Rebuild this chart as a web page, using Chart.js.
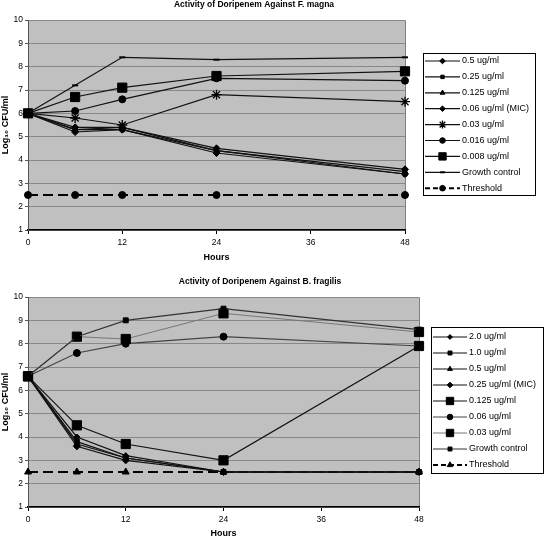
<!DOCTYPE html>
<html>
<head>
<meta charset="utf-8">
<script src="https://cdn.jsdelivr.net/npm/chart.js@4.4.1/dist/chart.umd.min.js"></script>
<style>
  body { margin: 0; background: #fff; }
  #wrap { position: relative; width: 544px; height: 538px; }
  canvas { position: absolute; left: 0; }
  #magnaChart { top: 0; }
  #fragilisChart { top: 270px; }
</style>
</head>
<body>
<div id="wrap">
  <canvas id="magnaChart" width="544" height="270"></canvas>
  <canvas id="fragilisChart" width="544" height="268"></canvas>
</div>
<script>
// sampling times (hours)
const HOURS = [0, 6, 12, 24, 48];

// F. magna, log10 CFU/ml
const FM_0_5 = [6.0, 5.2, 5.3, 4.3, 3.4];
const FM_0_25 = [6.0, 5.3, 5.3, 4.4, 3.4];
const FM_0_125 = [6.0, 5.3, 5.4, 4.4, 3.5];
const FM_0_06 = [6.0, 5.4, 5.4, 4.5, 3.6];
const FM_0_03 = [6.0, 5.8, 5.5, 6.8, 6.5];
const FM_0_016 = [6.0, 6.1, 6.6, 7.5, 7.4];
const FM_0_008 = [6.0, 6.7, 7.1, 7.6, 7.8];
const FM_GROWTH = [6.0, 7.2, 8.4, 8.3, 8.4];
const FM_THRESHOLD = [2.5, 2.5, 2.5, 2.5, 2.5];

// B. fragilis, log10 CFU/ml
const BF_2_0 = [6.6, 4.0, 3.2, 2.5, 2.5];
const BF_1_0 = [6.6, 3.8, 3.1, 2.5, 2.5];
const BF_0_5 = [6.6, 3.7, 3.1, 2.5, 2.5];
const BF_0_25 = [6.6, 3.6, 3.0, 2.5, 2.5];
const BF_0_125 = [6.6, 4.5, 3.7, 3.0, 7.9];
const BF_0_06 = [6.6, 7.6, 8.0, 8.3, 7.9];
const BF_0_03 = [6.6, 8.3, 8.2, 9.3, 8.5];
const BF_GROWTH = [6.6, 8.3, 9.0, 9.5, 8.6];
const BF_THRESHOLD = [2.5, 2.5, 2.5, 2.5, 2.5];

const FONT = "'Liberation Sans', Arial, Helvetica, sans-serif";

let seriesCount = 0;

function series(label, values, style) {
    seriesCount++;
    return Object.assign({
        label: label,
        data: values.map((v, i) => ({ x: HOURS[i], y: v })),
        borderColor: "#111",
        borderWidth: 1.2,
        pointBackgroundColor: "#000",
        pointBorderColor: "#000",
        pointBorderWidth: 1,
        fill: false,
        tension: 0,
        clip: false,
        order: -seriesCount   // later series drawn on top, like the original
    }, style);
}

// grey plot area with thin top/right frame
const plotBackground = {
    id: "plotBackground",
    beforeDraw(chart) {
        const { ctx, chartArea: a } = chart;
        ctx.save();
        ctx.fillStyle = "#c0c0c0";
        ctx.fillRect(a.left, a.top, a.right - a.left, a.bottom - a.top);
        ctx.strokeStyle = "#808080";
        ctx.lineWidth = 1;
        ctx.beginPath();
        ctx.moveTo(a.left, a.top + 0.5);
        ctx.lineTo(a.right + 0.5, a.top + 0.5);
        ctx.lineTo(a.right + 0.5, a.bottom);
        ctx.stroke();
        ctx.restore();
    }
};

const chartTitle = {
    id: "chartTitle",
    afterDraw(chart, args, opts) {
        const ctx = chart.ctx;
        ctx.save();
        ctx.fillStyle = "#000";
        ctx.font = "bold 8.5px " + FONT;
        ctx.textAlign = "center";
        ctx.textBaseline = "middle";
        ctx.fillText(opts.text, opts.x, opts.y);
        ctx.restore();
    }
};

// boxed legend: line + marker + label for each dataset
const boxLegend = {
    id: "boxLegend",
    afterDraw(chart, args, opts) {
        const ctx = chart.ctx;
        ctx.save();
        ctx.fillStyle = "#fff";
        ctx.fillRect(opts.x, opts.y, opts.w, opts.h);
        ctx.strokeStyle = "#000";
        ctx.lineWidth = 1;
        ctx.strokeRect(opts.x + 0.5, opts.y + 0.5, opts.w, opts.h);

        chart.data.datasets.forEach((ds, i) => {
            const y = opts.firstY + i * opts.step;
            ctx.save();
            ctx.strokeStyle = ds.borderColor;
            ctx.lineWidth = ds.borderWidth;
            ctx.setLineDash(ds.borderDash ? [5, 3] : []);
            ctx.beginPath();
            ctx.moveTo(opts.lineX0, y);
            ctx.lineTo(opts.lineX1, y);
            ctx.stroke();
            ctx.restore();

            ctx.save();
            ctx.fillStyle = ds.pointBackgroundColor;
            ctx.strokeStyle = ds.pointBorderColor;
            ctx.lineWidth = ds.pointBorderWidth;
            Chart.helpers.drawPoint(ctx, {
                pointStyle: ds.pointStyle,
                radius: ds.pointRadius * 0.8,
                rotation: 0,
                borderWidth: ds.pointBorderWidth
            }, (opts.lineX0 + opts.lineX1) / 2, y);
            ctx.restore();

            ctx.fillStyle = "#000";
            ctx.font = "9px " + FONT;
            ctx.textAlign = "left";
            ctx.textBaseline = "middle";
            ctx.fillText(ds.label, opts.textX, y);
        });
        ctx.restore();
    }
};

function buildOptions(cfg) {
    return {
        responsive: false,
        animation: false,
        devicePixelRatio: 1,
        events: [],
        layout: {
            padding: { left: 0, top: cfg.padTop, right: cfg.padRight, bottom: 0 }
        },
        scales: {
            x: {
                type: "linear",
                min: 0,
                max: 48,
                afterFit: (scale) => { scale.height = cfg.xHeight; },
                ticks: {
                    stepSize: 12,
                    padding: 4,
                    color: "#000",
                    font: { family: FONT, size: 8.5 }
                },
                grid: {
                    drawOnChartArea: false,
                    tickLength: 4,
                    color: "#000"
                },
                border: { color: "#000", width: 1.5 },
                title: {
                    display: true,
                    text: "Hours",
                    color: "#000",
                    font: { family: FONT, size: 9, weight: "bold", lineHeight: 1 },
                    padding: { top: 0, bottom: cfg.hoursPad }
                }
            },
            y: {
                min: 1,
                max: 10,
                afterFit: (scale) => { scale.width = 28; },
                ticks: {
                    stepSize: 1,
                    padding: 2,
                    color: "#000",
                    font: { family: FONT, size: 8.5 }
                },
                grid: {
                    color: "#888",
                    lineWidth: 1,
                    tickLength: 3,
                    tickColor: "#555"
                },
                border: { color: "#555", width: 1 },
                title: {
                    display: true,
                    text: "Log\u2081\u2080 CFU/ml",
                    color: "#000",
                    font: { family: FONT, size: 9, weight: "bold", lineHeight: 1 },
                    padding: { top: 1, bottom: 0 }
                }
            }
        },
        plugins: {
            legend: { display: false },
            tooltip: { enabled: false },
            chartTitle: cfg.title,
            boxLegend: cfg.legend
        }
    };
}

function renderMagnaChart() {
    const threshold = { borderDash: [10, 5], borderWidth: 2, borderColor: "#000", order: 10 };
    new Chart(document.getElementById("magnaChart"), {
        type: "line",
        data: {
            datasets: [
                series("0.5 ug/ml", FM_0_5, { pointStyle: "rectRot", pointRadius: 3.5 }),
                series("0.25 ug/ml", FM_0_25, { pointStyle: "rect", pointRadius: 3 }),
                series("0.125 ug/ml", FM_0_125, { pointStyle: "triangle", pointRadius: 3.5 }),
                series("0.06 ug/ml (MIC)", FM_0_06, { pointStyle: "rectRot", pointRadius: 3.5 }),
                series("0.03 ug/ml", FM_0_03, { pointStyle: "star", pointRadius: 5, pointBorderWidth: 1.3 }),
                series("0.016 ug/ml", FM_0_016, { pointStyle: "circle", pointRadius: 3.5 }),
                series("0.008 ug/ml", FM_0_008, { pointStyle: "rect", pointRadius: 6.5 }),
                series("Growth control", FM_GROWTH, { pointStyle: "line", pointRadius: 3, pointBorderWidth: 2 }),
                series("Threshold", FM_THRESHOLD, Object.assign({ pointStyle: "circle", pointRadius: 3.5 }, threshold))
            ]
        },
        options: buildOptions({
            padTop: 20,
            padRight: 139,
            xHeight: 40,
            hoursPad: 7.5,
            title: { text: "Activity of Doripenem Against F. magna", x: 254, y: 5 },
            legend: { x: 423, y: 53, w: 112, h: 142, lineX0: 425, lineX1: 460, textX: 462, firstY: 61, step: 15.9 }
        }),
        plugins: [plotBackground, chartTitle, boxLegend]
    });
}

function renderFragilisChart() {
    const threshold = { borderDash: [10, 5], borderWidth: 2, borderColor: "#000", order: 10 };
    new Chart(document.getElementById("fragilisChart"), {
        type: "line",
        data: {
            datasets: [
                series("2.0 ug/ml", BF_2_0, { pointStyle: "rectRot", pointRadius: 3 }),
                series("1.0 ug/ml", BF_1_0, { pointStyle: "rect", pointRadius: 3.5 }),
                series("0.5 ug/ml", BF_0_5, { pointStyle: "triangle", pointRadius: 3.5 }),
                series("0.25 ug/ml (MIC)", BF_0_25, { pointStyle: "rectRot", pointRadius: 3.5 }),
                series("0.125 ug/ml", BF_0_125, { pointStyle: "rect", pointRadius: 6.5 }),
                series("0.06 ug/ml", BF_0_06, { pointStyle: "circle", pointRadius: 3.5, borderColor: "#444" }),
                series("0.03 ug/ml", BF_0_03, { pointStyle: "rect", pointRadius: 6.5, borderColor: "#777", borderWidth: 1 }),
                series("Growth control", BF_GROWTH, { pointStyle: "rect", pointRadius: 3.5, borderColor: "#333" }),
                series("Threshold", BF_THRESHOLD, Object.assign({ pointStyle: "triangle", pointRadius: 4 }, threshold))
            ]
        },
        options: buildOptions({
            padTop: 27,
            padRight: 125,
            xHeight: 31,
            hoursPad: 0,
            title: { text: "Activity of Doripenem Against B. fragilis", x: 260, y: 12 },
            legend: { x: 431, y: 57, w: 112, h: 146, lineX0: 433, lineX1: 467, textX: 469, firstY: 67, step: 16 }
        }),
        plugins: [plotBackground, chartTitle, boxLegend]
    });
}

window.onload = function () {
    renderMagnaChart();
    renderFragilisChart();
};
</script>
</body>
</html>
